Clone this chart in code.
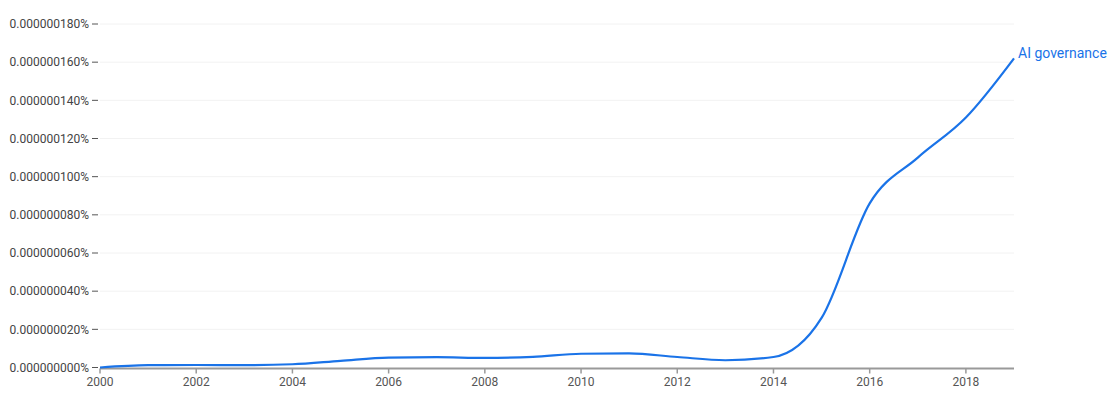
<!DOCTYPE html>
<html>
<head>
<meta charset="utf-8">
<script src="https://cdn.jsdelivr.net/npm/d3@7"></script>
<style>
  body { margin: 0; background: #fff; }
  text { font-family: Roboto, "Liberation Sans", Arial, sans-serif; }
</style>
</head>
<body>
<div class="canvas"></div>
<script>
// values in units of 1e-9 percent
const years = [2000, 2001, 2002, 2003, 2004, 2005, 2006, 2007, 2008, 2009,
  2010, 2011, 2012, 2013, 2014, 2015, 2016, 2017, 2018, 2019];
const aiGovernance = [0, 1.2, 1.3, 1.2, 1.7, 3.5, 5.2, 5.4, 5.0, 5.6,
  7.2, 7.4, 5.5, 3.8, 5.5, 26, 86, 110, 131, 162];
const seriesName = "AI governance";
const yTicks = [0, 20, 40, 60, 80, 100, 120, 140, 160, 180];
const xTicks = [2000, 2002, 2004, 2006, 2008, 2010, 2012, 2014, 2016, 2018];

const dims = { w: 1120, h: 397 };
const margin = { top: 24, right: 106, bottom: 29.5, left: 100 };

const svg = d3
  .select(".canvas")
  .append("svg")
  .attr("width", dims.w)
  .attr("height", dims.h);

const x = d3
  .scaleLinear()
  .domain([2000, 2019])
  .range([margin.left, dims.w - margin.right]);

const y = d3
  .scaleLinear()
  .domain([0, 180])
  .range([dims.h - margin.bottom, margin.top]);

const fmt = v => "0." + String(v).padStart(9, "0") + "%";

// gridlines
svg
  .append("g")
  .selectAll("line")
  .data(yTicks.filter(d => d > 0))
  .enter()
  .append("line")
  .attr("x1", x(2000))
  .attr("x2", x(2019))
  .attr("y1", d => y(d))
  .attr("y2", d => y(d))
  .attr("stroke", "#f2f2f2")
  .attr("stroke-width", 1);

// y labels
const yAxis = svg.append("g");
yAxis
  .selectAll("text")
  .data(yTicks)
  .enter()
  .append("text")
  .attr("x", 89)
  .attr("y", d => y(d))
  .attr("dy", "0.35em")
  .attr("text-anchor", "end")
  .attr("font-size", 12)
  .attr("fill", "#444")
  .text(fmt);
yAxis
  .selectAll("line")
  .data(yTicks)
  .enter()
  .append("line")
  .attr("x1", 92)
  .attr("x2", 98)
  .attr("y1", d => y(d))
  .attr("y2", d => y(d))
  .attr("stroke", "#555")
  .attr("stroke-width", 1);

// x axis
const xAxis = svg.append("g");
xAxis
  .append("line")
  .attr("x1", x(2000))
  .attr("x2", x(2019))
  .attr("y1", y(0) + 1)
  .attr("y2", y(0) + 1)
  .attr("stroke", "#999")
  .attr("stroke-width", 2);
xAxis
  .selectAll("line.tick")
  .data(xTicks)
  .enter()
  .append("line")
  .attr("class", "tick")
  .attr("x1", d => x(d))
  .attr("x2", d => x(d))
  .attr("y1", y(0) + 1)
  .attr("y2", y(0) + 6)
  .attr("stroke", "#999")
  .attr("stroke-width", 1.5);
xAxis
  .selectAll("text")
  .data(xTicks)
  .enter()
  .append("text")
  .attr("x", d => x(d))
  .attr("y", y(0) + 18)
  .attr("text-anchor", "middle")
  .attr("font-size", 12)
  .attr("fill", "#555")
  .text(d => d);

// series line
const line = d3
  .line()
  .x((d, i) => x(years[i]))
  .y(d => y(d))
  .curve(d3.curveMonotoneX);

svg
  .append("path")
  .datum(aiGovernance)
  .attr("d", line)
  .attr("fill", "none")
  .attr("stroke", "#1a73e8")
  .attr("stroke-width", 2.2);

const last = aiGovernance.length - 1;
svg
  .append("text")
  .attr("x", x(years[last]) + 4)
  .attr("y", y(aiGovernance[last]) - 5)
  .attr("dy", "0.35em")
  .attr("font-size", 14)
  .attr("fill", "#1a73e8")
  .text(seriesName);
</script>
</body>
</html>
